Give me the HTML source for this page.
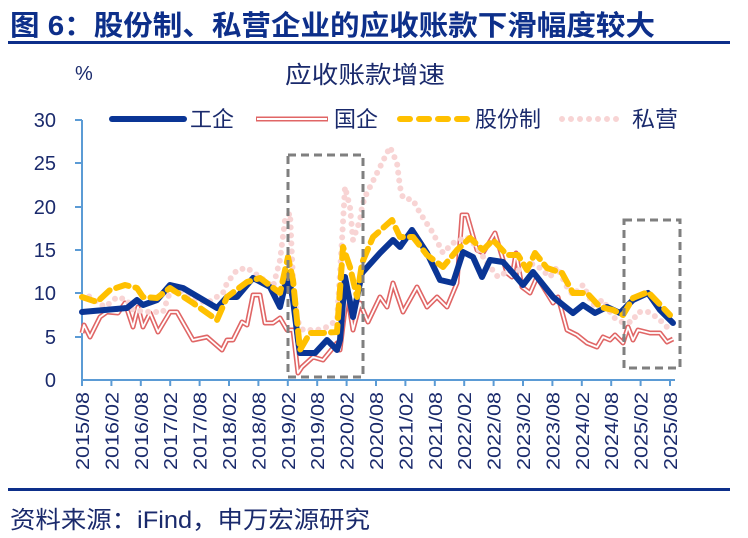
<!DOCTYPE html>
<html><head><meta charset="utf-8"><style>
body{margin:0;background:#fff;}
svg{display:block;font-family:"Liberation Sans","Noto Sans CJK SC",sans-serif;}
</style></head><body>
<svg width="748" height="538" viewBox="0 0 748 538" xmlns="http://www.w3.org/2000/svg">
<text x="10" y="35" font-size="28" font-weight="bold" fill="#0d2f8a" textLength="645" lengthAdjust="spacingAndGlyphs">图 6：股份制、私营企业的应收账款下滑幅度较大</text>
<rect x="8" y="41" width="722" height="3" fill="#0d2f8a"/>
<text x="75" y="80" font-size="20" fill="#1a2a6c">%</text>
<text x="285" y="83" font-size="24" fill="#1a2a6c" textLength="160" lengthAdjust="spacingAndGlyphs">应收账款增速</text>
<g font-size="22" fill="#1a2a6c">
<line x1="112" y1="119" x2="184" y2="119" stroke="#0a3595" stroke-width="6" stroke-linecap="round"/>
<text x="190" y="127" textLength="44" lengthAdjust="spacingAndGlyphs">工企</text>
<line x1="256" y1="119" x2="328" y2="119" stroke="#e06666" stroke-width="5"/>
<line x1="257" y1="119" x2="327" y2="119" stroke="#fff" stroke-width="2"/>
<text x="334" y="127" textLength="44" lengthAdjust="spacingAndGlyphs">国企</text>
<line x1="400" y1="119" x2="470" y2="119" stroke="#ffc000" stroke-width="6" stroke-dasharray="10 9" stroke-linecap="round"/>
<text x="475" y="127" textLength="66" lengthAdjust="spacingAndGlyphs">股份制</text>
<line x1="562" y1="119" x2="622" y2="119" stroke="#f8d4d4" stroke-width="6" stroke-dasharray="0 9" stroke-linecap="round"/>
<text x="632" y="127" textLength="46" lengthAdjust="spacingAndGlyphs">私营</text>
</g>
<g font-size="20" fill="#1a2a6c" text-anchor="end">
<text x="56" y="127">30</text><text x="56" y="170">25</text><text x="56" y="214">20</text>
<text x="56" y="257">15</text><text x="56" y="300">10</text><text x="56" y="344">5</text><text x="56" y="387">0</text>
</g>
<g stroke="#5b9bd5" stroke-width="2">
<line x1="82" y1="120" x2="82" y2="381"/>
<line x1="75" y1="120" x2="82" y2="120"/><line x1="75" y1="163" x2="82" y2="163"/><line x1="75" y1="207" x2="82" y2="207"/>
<line x1="75" y1="250" x2="82" y2="250"/><line x1="75" y1="293" x2="82" y2="293"/><line x1="75" y1="337" x2="82" y2="337"/>
<line x1="81" y1="380" x2="675" y2="380"/>
</g>
<g id="xt" stroke="#5b9bd5" stroke-width="2"></g>
<g id="xl" font-size="18" fill="#1a2a6c"></g>
<polyline fill="none" stroke="#e06666" stroke-width="5" stroke-linejoin="round" points="82,333 84,325 90,337 100,317 107,312 118,313 125,303 133,327 138,307 143,327 150,313 158,332 170,312 177,312 193,340 207,337 222,350 227,340 233,340 242,322 247,325 253,295 260,295 265,323 273,323 280,318 287,330 293,330 298,373 302,367 313,357 323,360 337,343 340,350 347,293 353,330 360,303 368,322 380,297 387,307 393,283 403,312 417,287 427,307 437,297 447,307 457,283 462,215 467,215 477,250 483,253 495,233 507,273 512,277 516,253 522,287 530,293 537,277 553,303 558,297 567,330 577,335 587,343 597,347 603,337 610,340 615,335 623,343 628,327 633,340 638,330 650,333 660,333 667,342 673,339"/>
<polyline fill="none" stroke="#fff" stroke-width="1.8" stroke-linejoin="round" points="82,333 84,325 90,337 100,317 107,312 118,313 125,303 133,327 138,307 143,327 150,313 158,332 170,312 177,312 193,340 207,337 222,350 227,340 233,340 242,322 247,325 253,295 260,295 265,323 273,323 280,318 287,330 293,330 298,373 302,367 313,357 323,360 337,343 340,350 347,293 353,330 360,303 368,322 380,297 387,307 393,283 403,312 417,287 427,307 437,297 447,307 457,283 462,215 467,215 477,250 483,253 495,233 507,273 512,277 516,253 522,287 530,293 537,277 553,303 558,297 567,330 577,335 587,343 597,347 603,337 610,340 615,335 623,343 628,327 633,340 638,330 650,333 660,333 667,342 673,339"/>
<polyline fill="none" stroke="#f8d4d4" stroke-width="6" stroke-dasharray="0 8" stroke-linecap="round" stroke-linejoin="round" points="82,297 87,295 97,302 105,307 117,297 127,300 133,310 150,312 163,312 170,292 180,290 193,298 207,303 223,293 227,283 237,270 247,268 260,277 273,287 280,260 285,220 290,213 293,280 297,320 303,330 317,330 327,327 337,320 342,240 345,187 350,207 353,240 360,220 362,207 365,197 370,187 380,167 390,147 397,163 400,187 403,198 413,200 420,213 433,233 443,253 453,243 467,237 477,247 487,263 498,277 510,270 520,270 530,263 540,268 550,277 557,267 567,287 573,295 583,285 593,305 603,300 613,317 622,322 632,322 638,312 648,312 658,318 667,327"/>
<polyline fill="none" stroke="#0a3595" stroke-width="6" stroke-linejoin="round" stroke-linecap="round" points="82,312 127,308 137,300 143,305 157,300 170,285 183,288 217,308 227,297 237,297 253,278 270,287 280,307 288,273 293,300 298,340 300,353 315,353 327,340 337,350 340,340 345,277 353,317 362,273 380,253 393,240 400,247 412,230 427,253 440,280 453,283 463,252 473,257 482,277 490,260 503,262 512,272 523,285 533,272 553,297 573,313 583,305 595,313 607,307 620,313 633,300 648,293 660,310 673,323"/>
<polyline fill="none" stroke="#ffc000" stroke-width="6" stroke-dasharray="13 7" stroke-linecap="round" stroke-linejoin="round" points="82,297 97,302 110,290 125,285 137,288 143,297 157,298 170,288 193,303 217,320 227,297 247,282 260,278 280,293 288,257 293,280 300,350 310,333 323,333 337,332 343,247 350,267 357,297 362,263 373,237 392,220 400,237 413,237 427,255 443,267 457,250 470,238 483,250 493,240 507,255 518,255 527,270 535,253 547,268 562,273 573,293 587,293 600,307 613,310 623,315 633,298 648,292 670,315"/>
<g fill="none" stroke="#7f7f7f" stroke-width="3" stroke-dasharray="8 5">
<rect x="288" y="155" width="75" height="222"/>
<rect x="624" y="220" width="56" height="148"/>
</g>
<rect x="8" y="488" width="722" height="3" fill="#0d2f8a"/>
<text x="10" y="528" font-size="24" fill="#1a2a6c" textLength="360" lengthAdjust="spacingAndGlyphs">资料来源：iFind，申万宏源研究</text>
<script>
var labs=[];for(var y=2015;y<=2025;y++){if(y>2015)labs.push(y+"/02");labs.push(y+"/08");}
var t=document.getElementById("xt"),l=document.getElementById("xl"),ns="http://www.w3.org/2000/svg";
labs.forEach(function(s,i){var x=82+29.4*i;
var ln=document.createElementNS(ns,"line");ln.setAttribute("x1",x);ln.setAttribute("x2",x);ln.setAttribute("y1",380);ln.setAttribute("y2",386);t.appendChild(ln);
var tx=document.createElementNS(ns,"text");tx.setAttribute("transform","translate("+(x+7)+",392) rotate(-90)");tx.setAttribute("text-anchor","end");tx.setAttribute("textLength","78");tx.setAttribute("lengthAdjust","spacingAndGlyphs");tx.textContent=s;l.appendChild(tx);});
</script>
</svg>
</body></html>
